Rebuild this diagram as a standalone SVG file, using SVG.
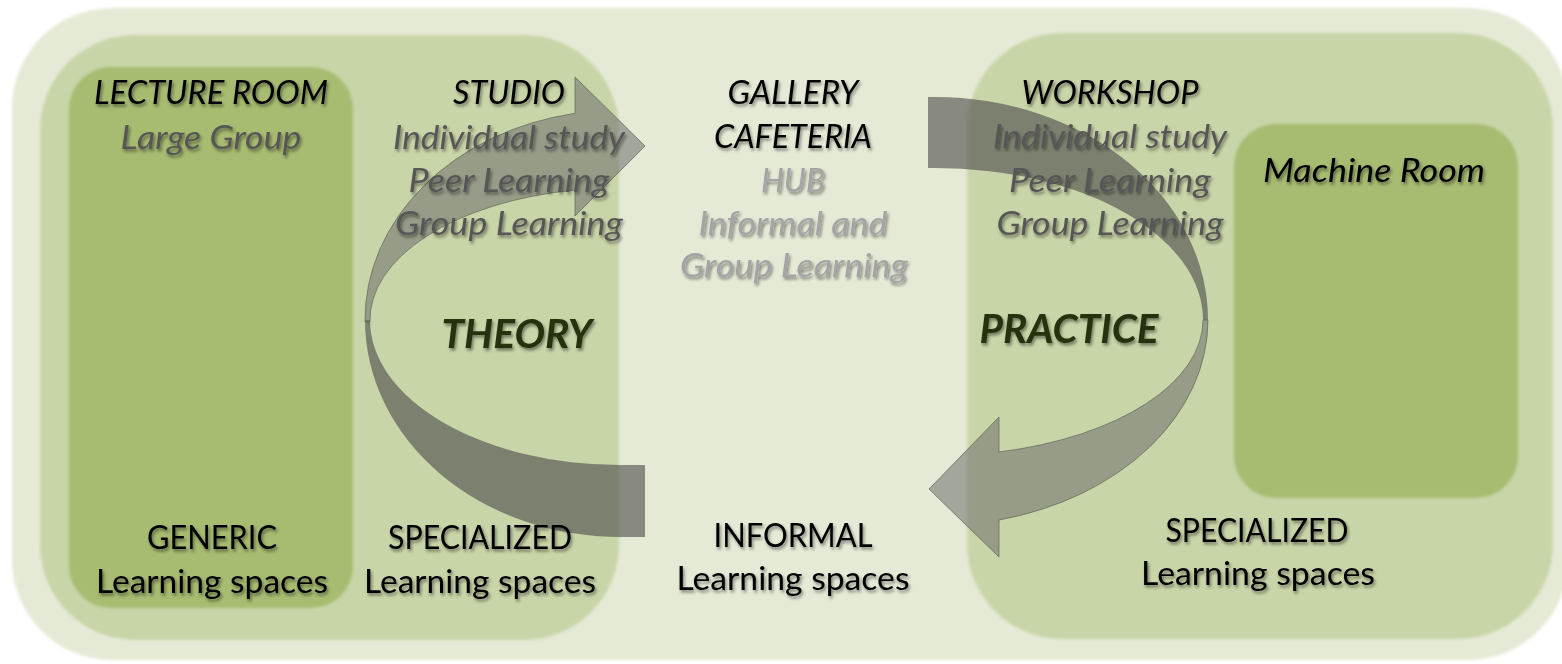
<svg xmlns="http://www.w3.org/2000/svg" width="1562" height="664" viewBox="0 0 1562 664">
<defs>
<filter id="soft" x="-5%" y="-5%" width="110%" height="110%"><feGaussianBlur stdDeviation="1.6"/></filter>
<filter id="ts" x="-10%" y="-30%" width="120%" height="160%"><feDropShadow dx="1.5" dy="2.5" stdDeviation="1.4" flood-color="#000" flood-opacity="0.45"/></filter>
<style>
.t{font-family:Lato,"Open Sans","Liberation Sans",sans-serif;font-size:32px;text-anchor:middle;filter:url(#ts)}
.i{font-style:italic}
.k{fill:#000}
.g{fill:#575757}
.l{fill:#a4a4a4}
.big{font-weight:bold;font-style:italic;font-size:40px;fill:#25310e}
.zone{fill:#c8d5a8}
.room{fill:#a7bb71}
.back{fill:#4a4a4a;fill-opacity:0.6}
.front{fill:#6e6e6e;fill-opacity:0.55;stroke:#5d6650;stroke-opacity:0.7;stroke-width:1}
</style>
</defs>
<rect width="1562" height="664" fill="#ffffff"/>
<g id="outer"><rect x="12" y="8" width="1556" height="652" rx="100" fill="#e5ead6" filter="url(#soft)"/></g>
<g id="theory-zone"><rect x="40" y="35" width="579" height="605" rx="95" class="zone" filter="url(#soft)"/></g>
<g id="lecture-room"><rect x="69" y="67" width="284" height="541" rx="42" class="room" filter="url(#soft)"/></g>
<g id="practice-zone"><rect x="967" y="33" width="586" height="606" rx="95" class="zone" filter="url(#soft)"/></g>
<g id="machine-room"><rect x="1234" y="124" width="284" height="374" rx="42" class="room" filter="url(#soft)"/></g>
<g id="connectors">
<path class="back" d="M645,537 L620,537 A255,217 0 0 1 365,320 L370,320 A250,145 0 0 0 620,465 L645,465 Z"/>
<path class="front" d="M365,322 A255,210 0 0 1 575,113.3 L575,77 L645,146 L575,216 L575,190 A250,132 0 0 0 370,322 Z"/>
<path class="back" d="M928,97 L935,97 A273,223 0 0 1 1208,320 L1203,320 A268,152 0 0 0 935,168 L928,168 Z"/>
<path class="front" d="M1208,320 A273,206 0 0 1 999,520 L999,557 L929,489 L999,417 L999,452 A268,136 0 0 0 1203,320 Z"/>
</g>
<g id="lecture-text">
<text class="t i k" x="211" y="104" textLength="234" lengthAdjust="spacingAndGlyphs">LECTURE ROOM</text>
<text class="t i g" x="211" y="149" textLength="181" lengthAdjust="spacingAndGlyphs">Large Group</text>
<text class="t k" x="212" y="549" textLength="130" lengthAdjust="spacingAndGlyphs">GENERIC</text>
<text class="t k" x="212" y="593" textLength="232" lengthAdjust="spacingAndGlyphs">Learning spaces</text>
</g>
<g id="studio-text">
<text class="t i k" x="509" y="104" textLength="112" lengthAdjust="spacingAndGlyphs">STUDIO</text>
<text class="t i g" x="509" y="149" textLength="232" lengthAdjust="spacingAndGlyphs">Individual study</text>
<text class="t i g" x="509" y="192" textLength="201" lengthAdjust="spacingAndGlyphs">Peer Learning</text>
<text class="t i g" x="509" y="235" textLength="228" lengthAdjust="spacingAndGlyphs">Group Learning</text>
<text class="t big" x="517" y="348" textLength="151" lengthAdjust="spacingAndGlyphs">THEORY</text>
<text class="t k" x="480" y="549" textLength="184" lengthAdjust="spacingAndGlyphs">SPECIALIZED</text>
<text class="t k" x="480" y="593" textLength="232" lengthAdjust="spacingAndGlyphs">Learning spaces</text>
</g>
<g id="gallery-text">
<text class="t i k" x="793" y="104" textLength="131" lengthAdjust="spacingAndGlyphs">GALLERY</text>
<text class="t i k" x="793" y="148" textLength="158" lengthAdjust="spacingAndGlyphs">CAFETERIA</text>
<text class="t i l" x="793" y="192" textLength="64" lengthAdjust="spacingAndGlyphs">HUB</text>
<text class="t i l" x="793" y="235" textLength="189" lengthAdjust="spacingAndGlyphs">Informal and</text>
<text class="t i l" x="794" y="277" textLength="228" lengthAdjust="spacingAndGlyphs">Group Learning</text>
<text class="t k" x="793" y="547" textLength="159" lengthAdjust="spacingAndGlyphs">INFORMAL</text>
<text class="t k" x="793" y="590" textLength="233" lengthAdjust="spacingAndGlyphs">Learning spaces</text>
</g>
<g id="workshop-text">
<text class="t i k" x="1110" y="104" textLength="177" lengthAdjust="spacingAndGlyphs">WORKSHOP</text>
<text class="t i g" x="1110" y="148" textLength="234" lengthAdjust="spacingAndGlyphs">Individual study</text>
<text class="t i g" x="1110" y="192" textLength="202" lengthAdjust="spacingAndGlyphs">Peer Learning</text>
<text class="t i g" x="1110" y="235" textLength="227" lengthAdjust="spacingAndGlyphs">Group Learning</text>
<text class="t big" x="1069" y="343" textLength="179" lengthAdjust="spacingAndGlyphs">PRACTICE</text>
<text class="t k" x="1257" y="542" textLength="183" lengthAdjust="spacingAndGlyphs">SPECIALIZED</text>
<text class="t k" x="1258" y="585" textLength="234" lengthAdjust="spacingAndGlyphs">Learning spaces</text>
</g>
<g id="machine-text">
<text class="t i k" x="1374" y="182" textLength="222" lengthAdjust="spacingAndGlyphs">Machine Room</text>
</g>
</svg>
